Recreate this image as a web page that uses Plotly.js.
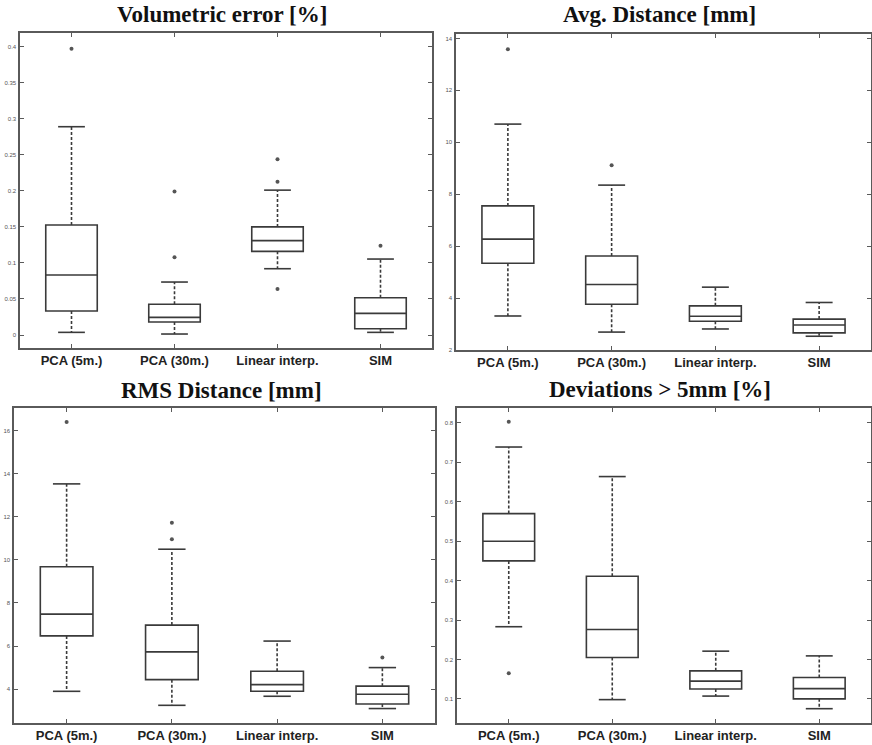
<!DOCTYPE html>
<html>
<head>
<meta charset="utf-8">
<script src="https://cdn.plot.ly/plotly-3.0.1.min.js"></script>
<style>html,body{margin:0;padding:0;background:#fff;}#chart{width:872px;height:745px;}</style>
</head>
<body>
<div id="chart"></div>
<script>
// ---- data ----
const categories = ['PCA (5m.)', 'PCA (30m.)', 'Linear interp.', 'SIM'];
const catPos = [1, 2, 3, 4];

// Volumetric error [%]
const volQ1  = [0.0333, 0.0180, 0.1161, 0.0088];
const volMed = [0.0832, 0.0245, 0.1309, 0.0301];
const volQ3  = [0.1526, 0.0426, 0.1500, 0.0518];
const volLo  = [0.0037, 0.0014, 0.0920, 0.0037];
const volHi  = [0.2890, 0.0735, 0.2010, 0.1054];
const volOutCat = [1, 2, 2, 3, 3, 3, 4];
const volOutVal = [0.397, 0.108, 0.199, 0.2437, 0.2127, 0.0638, 0.1239];

// Avg. Distance [mm]
const avgQ1  = [5.34, 3.76, 3.11, 2.66];
const avgMed = [6.27, 4.52, 3.30, 2.96];
const avgQ3  = [7.55, 5.62, 3.70, 3.19];
const avgLo  = [3.31, 2.69, 2.81, 2.53];
const avgHi  = [10.70, 8.35, 4.42, 3.83];
const avgOutCat = [1, 2];
const avgOutVal = [13.58, 9.12];

// RMS Distance [mm]
const rmsQ1  = [6.47, 4.44, 3.90, 3.31];
const rmsMed = [7.48, 5.73, 4.21, 3.76];
const rmsQ3  = [9.68, 6.97, 4.83, 4.14];
const rmsLo  = [3.90, 3.25, 3.67, 3.10];
const rmsHi  = [13.52, 10.49, 6.23, 5.00];
const rmsOutCat = [1, 2, 2, 4];
const rmsOutVal = [16.39, 10.95, 11.72, 5.47];

// Deviations > 5mm [%]
const devQ1  = [0.450, 0.205, 0.125, 0.100];
const devMed = [0.500, 0.276, 0.145, 0.126];
const devQ3  = [0.570, 0.411, 0.171, 0.154];
const devLo  = [0.283, 0.098, 0.107, 0.075];
const devHi  = [0.739, 0.664, 0.221, 0.209];
const devOutCat = [1, 1];
const devOutVal = [0.803, 0.165];

const titles = ['Volumetric error [%]', 'Avg. Distance [mm]', 'RMS Distance [mm]', 'Deviations &gt; 5mm [%]'];

// ---- styling ----
const W = 872, H = 745;
const lineCol = '#3a3a3a';
const frameCol = '#5a5a5a';
const boxHalf = 0.25, capHalf = 0.13;

const panels = [
  {q1: volQ1, med: volMed, q3: volQ3, lo: volLo, hi: volHi, oc: volOutCat, ov: volOutVal,
   px: [20, 432], py: [33, 348], range: [-0.018, 0.419], dtick: 0.05, tick0: 0, title: [222, 15]},
  {q1: avgQ1, med: avgMed, q3: avgQ3, lo: avgLo, hi: avgHi, oc: avgOutCat, ov: avgOutVal,
   px: [456, 871], py: [34, 350], range: [2, 14.17], dtick: 2, tick0: 0, title: [659, 15]},
  {q1: rmsQ1, med: rmsMed, q3: rmsQ3, lo: rmsLo, hi: rmsHi, oc: rmsOutCat, ov: rmsOutVal,
   px: [14, 435], py: [408, 723], range: [2.43, 17.04], dtick: 2, tick0: 0, title: [221, 390]},
  {q1: devQ1, med: devMed, q3: devQ3, lo: devLo, hi: devHi, oc: devOutCat, ov: devOutVal,
   px: [457, 871], py: [408, 723], range: [0.0387, 0.838], dtick: 0.1, tick0: 0, title: [660, 389]}
];

const traces = [];
const layout = {
  width: W, height: H,
  margin: {l: 0, r: 0, t: 0, b: 0},
  paper_bgcolor: '#ffffff', plot_bgcolor: '#ffffff',
  showlegend: false,
  annotations: []
};

panels.forEach((p, k) => {
  const n = k === 0 ? '' : String(k + 1);
  const xa = 'x' + n, ya = 'y' + n;
  // box body
  traces.push({
    type: 'box', x: catPos, q1: p.q1, median: p.med, q3: p.q3,
    lowerfence: p.q1, upperfence: p.q3, width: boxHalf * 2, whiskerwidth: 0,
    boxpoints: false, fillcolor: 'rgba(0,0,0,0)',
    line: {color: lineCol, width: 1.6}, xaxis: xa, yaxis: ya, hoverinfo: 'skip'
  });
  // dashed whiskers
  const wx = [], wy = [], cx = [], cy = [];
  catPos.forEach((c, i) => {
    wx.push(c, c, null, c, c, null);
    wy.push(p.q3[i], p.hi[i], null, p.q1[i], p.lo[i], null);
    cx.push(c - capHalf, c + capHalf, null, c - capHalf, c + capHalf, null);
    cy.push(p.hi[i], p.hi[i], null, p.lo[i], p.lo[i], null);
  });
  traces.push({type: 'scatter', mode: 'lines', x: wx, y: wy, xaxis: xa, yaxis: ya,
    line: {color: lineCol, width: 1.6, dash: '3px,2px'}, hoverinfo: 'skip'});
  traces.push({type: 'scatter', mode: 'lines', x: cx, y: cy, xaxis: xa, yaxis: ya,
    line: {color: lineCol, width: 1.6}, hoverinfo: 'skip'});
  // outliers
  traces.push({type: 'scatter', mode: 'markers', x: p.oc, y: p.ov, xaxis: xa, yaxis: ya,
    marker: {symbol: 'circle', size: 4, color: '#555'}, hoverinfo: 'skip'});

  layout['xaxis' + n] = {
    domain: [p.px[0] / W, p.px[1] / W], anchor: ya,
    range: [0.5, 4.5], tickvals: catPos, ticktext: categories,
    ticks: 'inside', ticklen: 4, tickwidth: 1, tickcolor: frameCol, mirror: 'allticks',
    showline: true, linecolor: frameCol, linewidth: 1.6, showgrid: false, zeroline: false,
    tickfont: {family: 'Liberation Sans, Arial, sans-serif', size: 13, weight: 'bold', color: '#222'},
    fixedrange: true
  };
  layout['yaxis' + n] = {
    domain: [1 - p.py[1] / H, 1 - p.py[0] / H], anchor: xa,
    range: p.range, tick0: p.tick0, dtick: p.dtick,
    ticks: 'inside', ticklen: 4, tickwidth: 1, tickcolor: frameCol, mirror: 'allticks',
    showline: true, linecolor: frameCol, linewidth: 1.6, showgrid: false, zeroline: false,
    tickfont: {family: 'Liberation Sans, Arial, sans-serif', size: 6, color: '#555'},
    ticklabelstandoff: 1, fixedrange: true
  };
  layout.annotations.push({
    text: titles[k], xref: 'paper', yref: 'paper',
    x: p.title[0] / W, y: 1 - p.title[1] / H, xanchor: 'center', yanchor: 'middle',
    showarrow: false,
    font: {family: 'Liberation Serif, Times New Roman, serif', size: 23, weight: 'bold', color: '#111'}
  });
});

Plotly.newPlot('chart', traces, layout, {displayModeBar: false, staticPlot: true});
</script>
</body>
</html>
